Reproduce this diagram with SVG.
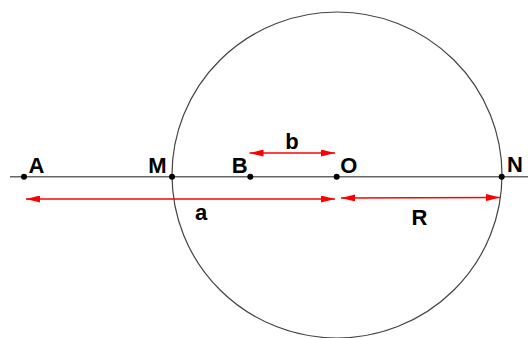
<svg xmlns="http://www.w3.org/2000/svg" width="528" height="338" viewBox="0 0 528 338">
<style>
.lbl{font-family:"Liberation Sans",Arial,sans-serif;font-weight:bold;font-size:22px;fill:#000;text-anchor:middle}
.dim{stroke:#ff0000;stroke-width:1.3;fill:none;marker-start:url(#ah);marker-end:url(#ah)}
.pt{fill:#000}
</style>
<defs>
<marker id="ah" viewBox="0 0 14 7" refX="14" refY="3.5" markerWidth="14" markerHeight="7" markerUnits="userSpaceOnUse" orient="auto-start-reverse">
<path d="M0,0 L14,3.5 L0,7 Z" fill="#ff0000"/>
</marker>
</defs>
<rect width="528" height="338" fill="#fff"/>
<g id="circle">
<ellipse cx="337" cy="175" rx="165" ry="163" fill="none" stroke="#444" stroke-width="1.2"/>
</g>
<g id="connectors">
<line x1="10" y1="176.7" x2="528" y2="176.7" stroke="#666" stroke-width="1.4"/>
<line class="dim" x1="26" y1="199" x2="335" y2="199"/>
<line class="dim" x1="249.5" y1="153" x2="335" y2="153"/>
<line class="dim" x1="341" y1="198" x2="500" y2="197.5"/>
</g>
<g id="A"><circle class="pt" cx="24" cy="176.7" r="3"/><text class="lbl" x="36.5" y="172.7">A</text></g>
<g id="M"><circle class="pt" cx="172" cy="176.7" r="3"/><text class="lbl" x="157.5" y="172.7">M</text></g>
<g id="B"><circle class="pt" cx="250.3" cy="176.7" r="3"/><text class="lbl" x="239.7" y="172.7">B</text></g>
<g id="O"><circle class="pt" cx="336.7" cy="176.7" r="3"/><text class="lbl" x="348.7" y="172.5">O</text></g>
<g id="N"><circle class="pt" cx="501.7" cy="176.7" r="3"/><text class="lbl" x="515" y="172.3">N</text></g>
<g id="labels">
<text class="lbl" x="201" y="219.5">a</text>
<text class="lbl" x="292" y="148.5">b</text>
<text class="lbl" x="419.5" y="225.2">R</text>
</g>
</svg>
